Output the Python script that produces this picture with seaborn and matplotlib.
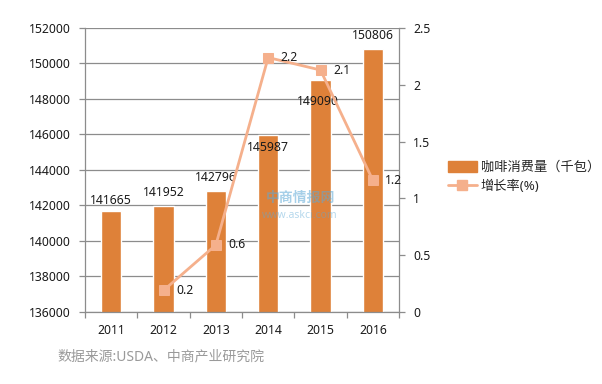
import matplotlib
matplotlib.use("Agg")
import matplotlib.pyplot as plt
import seaborn as sns
import numpy as np
import pandas as pd
from matplotlib.patches import Patch
from matplotlib.lines import Line2D

years = ["2011", "2012", "2013", "2014", "2015", "2016"]
consumption = [141665, 141952, 142796, 145987, 149090, 150806]
growth_years = ["2012", "2013", "2014", "2015", "2016"]
growth = [0.19, 0.59, 2.24, 2.13, 1.16]
growth_labels = ["0.2", "0.6", "2.2", "2.1", "1.2"]
left_ticks = [136000, 138000, 140000, 142000, 144000, 146000, 148000, 150000, 152000]
right_ticks = [0, 0.5, 1, 1.5, 2, 2.5]
right_tick_labels = ["0", "0.5", "1", "1.5", "2", "2.5"]
bar_name = "咖啡消费量（千包）"
line_name = "增长率(%)"
source = "数据来源:USDA、中商产业研究院"

BAR = "#DE8139"
LINE = "#F5B08C"
GRID = "#8C8C8C"

sns.set_theme(style="white")
plt.rcParams['font.family'] = ['Noto Sans', 'Noto Sans CJK SC', 'DejaVu Sans']

fig = plt.figure(figsize=(6.02, 3.84), dpi=100)
ax = fig.add_axes([85 / 602, 72 / 384, 314 / 602, 284 / 384])

df = pd.DataFrame({"year": years, "value": consumption})
sns.barplot(data=df, x="year", y="value", color=BAR, width=0.39,
            saturation=1, ax=ax, zorder=2)
ax.set_ylim(136000, 152000)
ax.set_xlim(-0.5, 5.5)
ax.set_yticks(left_ticks)
ax.set_yticklabels([str(t) for t in left_ticks])
ax.set_xlabel("")
ax.set_ylabel("")
ax.yaxis.grid(True, color=GRID, linewidth=0.9, zorder=0)
ax.set_axisbelow(True)
for s in ["top", "right"]:
    ax.spines[s].set_visible(False)
for s in ["left", "bottom"]:
    ax.spines[s].set_color(GRID)
    ax.spines[s].set_linewidth(0.9)
ax.tick_params(axis="y", which="major", length=4, color=GRID, width=0.9,
               labelsize=8.8, labelcolor="#1a1a1a", direction="out", left=True, pad=6)
ax.tick_params(axis="x", which="major", length=0, labelsize=8.8,
               labelcolor="#1a1a1a", pad=9)
ax.set_xticks(np.arange(-0.5, 6, 1), minor=True)
ax.tick_params(axis="x", which="minor", length=4, color=GRID, width=0.9,
               direction="out", bottom=True)

bar_offsets = [8, 10, 10, -9, -16, 10]
bar_dx = [0, 0, 0, 0, -2, 0]
for i, (v, dy, dx) in enumerate(zip(consumption, bar_offsets, bar_dx)):
    ax.annotate(str(v), (i, v), xytext=(dx, dy), textcoords="offset points",
                ha="center", va="center", fontsize=8.8, color="#1a1a1a", zorder=5)

# watermark
fig.text(300 / 602, 1 - 198 / 384, "中商情报网", ha="center", va="center",
         fontsize=10, color="#5DA9D6", alpha=0.55, fontweight="bold")
fig.text(300 / 602, 1 - 215 / 384, "www.askci.com", ha="center", va="center",
         fontsize=7.5, color="#5DA9D6", alpha=0.45)

ax2 = ax.twinx()
pos = [years.index(y) for y in growth_years]
sns.lineplot(x=pos, y=growth, ax=ax2, color=LINE, marker="s", markersize=7,
             markeredgecolor=LINE, linewidth=2.0, zorder=3)
ax2.set_ylim(0, 2.5)
ax2.set_xlim(-0.5, 5.5)
ax2.set_yticks(right_ticks)
ax2.set_yticklabels(right_tick_labels)
for s in ["top", "left", "bottom"]:
    ax2.spines[s].set_visible(False)
ax2.spines["right"].set_color(GRID)
ax2.spines["right"].set_linewidth(0.9)
ax2.tick_params(axis="y", length=4, color=GRID, width=0.9, labelsize=8.8,
                labelcolor="#1a1a1a", direction="out", right=True, pad=6)
ax2.grid(False)
for p, g, lab in zip(pos, growth, growth_labels):
    ax2.annotate(lab, (p, g), xytext=(9, 0), textcoords="offset points",
                 ha="left", va="center", fontsize=8.8, color="#1a1a1a")

handles = [Patch(facecolor=BAR, edgecolor=BAR),
           Line2D([0], [0], color=LINE, linewidth=2.0, marker="s", markersize=7)]
fig.legend(handles, [bar_name, line_name], loc="center left",
           bbox_to_anchor=(436 / 602, 1 - 177 / 384), frameon=False,
           fontsize=9.5, handlelength=2.2, handleheight=0.9, labelspacing=0.5,
           handletextpad=0.3)

fig.text(57 / 602, 1 - 357 / 384, source, ha="left", va="center",
         fontsize=10, color="#9a9a9a")

fig.savefig("out.png", dpi=100)
